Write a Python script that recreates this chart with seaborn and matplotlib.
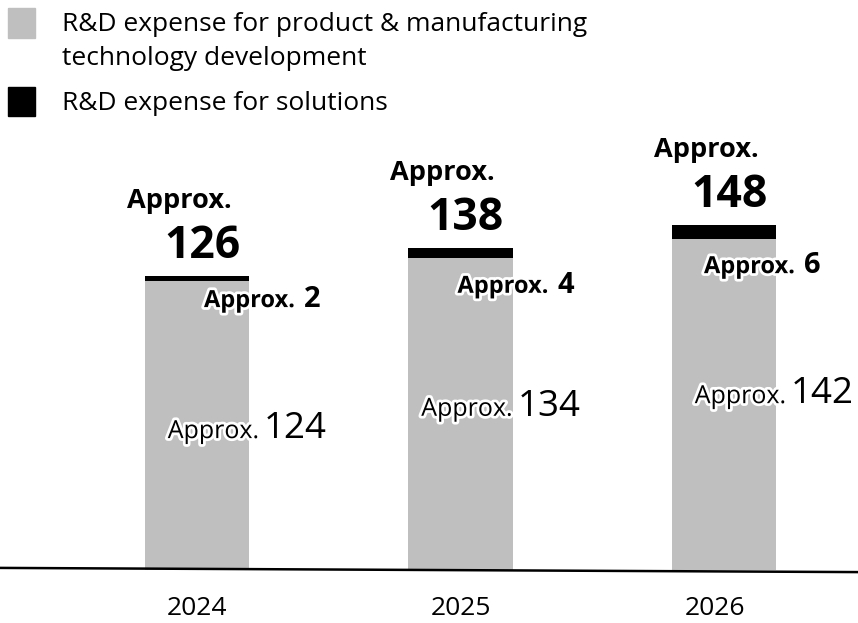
import matplotlib
matplotlib.use("Agg")
import matplotlib.pyplot as plt
import matplotlib.patheffects as pe
import seaborn as sns
import pandas as pd

years = ["2024", "2025", "2026"]
product_dev = [124, 134, 142]
solutions = [2, 4, 6]
totals = [126, 138, 148]
legend_labels = ["R&D expense for product & manufacturing\ntechnology development",
                 "R&D expense for solutions"]

GRAY = "#bfbfbf"
BLACK = "#000000"

sns.set_theme(style="white")
plt.rcParams['font.family'] = ['Open Sans', 'DejaVu Sans']
plt.rcParams['text.color'] = 'black'

W, H = 858, 623
fig = plt.figure(figsize=(W / 100, H / 100), dpi=100)
ax = fig.add_axes([0, 0, 1, 1])

df = pd.DataFrame({"year": years, "product": product_dev,
                   "solutions": solutions, "total": totals})

sns.barplot(data=df, x="year", y="total", color=BLACK, width=0.395,
            saturation=1, ax=ax, linewidth=0)
sns.barplot(data=df, x="year", y="product", color=GRAY, width=0.395,
            saturation=1, ax=ax, linewidth=0)

ppu = 2.33
base_px = 570
ax.set_xlim(-197 / 263.5, (W - 197) / 263.5)
ax.set_ylim(-(H - base_px) / ppu, base_px / ppu)
ax.axis("off")

# baseline
ax.plot([-197 / 263.5, (W - 197) / 263.5], [0.9, -0.9], color=BLACK, lw=1.8,
        solid_capstyle="butt")

stroke = [pe.withStroke(linewidth=4, foreground="white")]

# total labels
for i, (y, t) in enumerate(zip(years, totals)):
    ax.annotate("Approx.", xy=(i, t), xytext=(-18, 68), textcoords="offset pixels",
                ha="center", va="baseline", fontsize=19.5, fontweight="bold")
    ax.annotate(f"{t}", xy=(i, t), xytext=(5, 18), textcoords="offset pixels",
                ha="center", va="baseline", fontsize=32, fontweight="bold")

# solutions labels
sol_off = [(98, 26), (88, 35), (71, 34)]
for i, (p, s) in enumerate(zip(product_dev, solutions)):
    dx, dy = sol_off[i]
    ax.annotate("Approx.", xy=(i, p), xytext=(dx, -dy), textcoords="offset pixels",
                ha="right", va="baseline", fontsize=17, fontweight="bold",
                path_effects=stroke)
    ax.annotate(f"{s}", xy=(i, p), xytext=(dx + 9, -dy), textcoords="offset pixels",
                ha="left", va="baseline", fontsize=21, fontweight="bold")

# product labels
prod_off = [(62, 157), (52, 158), (62, 164)]
for i, p in enumerate(product_dev):
    dx, dy = prod_off[i]
    ax.annotate("Approx.", xy=(i, p), xytext=(dx, -dy), textcoords="offset pixels",
                ha="right", va="baseline", fontsize=18,
                path_effects=stroke)
    ax.annotate(f"{p}", xy=(i, p), xytext=(dx + 5, -dy), textcoords="offset pixels",
                ha="left", va="baseline", fontsize=26.5)

# year labels
year_dx = [0, 0, -9]
for i, y in enumerate(years):
    ax.annotate(y, xy=(i, 0), xytext=(year_dx[i], -45), textcoords="offset pixels",
                ha="center", va="baseline", fontsize=19)

# legend
def fx(x):
    return x / W

def fy(y):
    return 1 - y / H

fig.patches.append(plt.Rectangle((fx(8), fy(38)), 27 / W, 30 / H, color=GRAY,
                                 transform=fig.transFigure, figure=fig))
fig.patches.append(plt.Rectangle((fx(8), fy(116)), 27 / W, 29 / H, color=BLACK,
                                 transform=fig.transFigure, figure=fig))
lines = legend_labels[0].split("\n")
fig.text(fx(62), fy(31), lines[0], fontsize=19, ha="left", va="baseline")
fig.text(fx(62), fy(65), lines[1], fontsize=19, ha="left", va="baseline")
fig.text(fx(62), fy(110), legend_labels[1], fontsize=19, ha="left", va="baseline")

fig.savefig("out.png", dpi=100)
